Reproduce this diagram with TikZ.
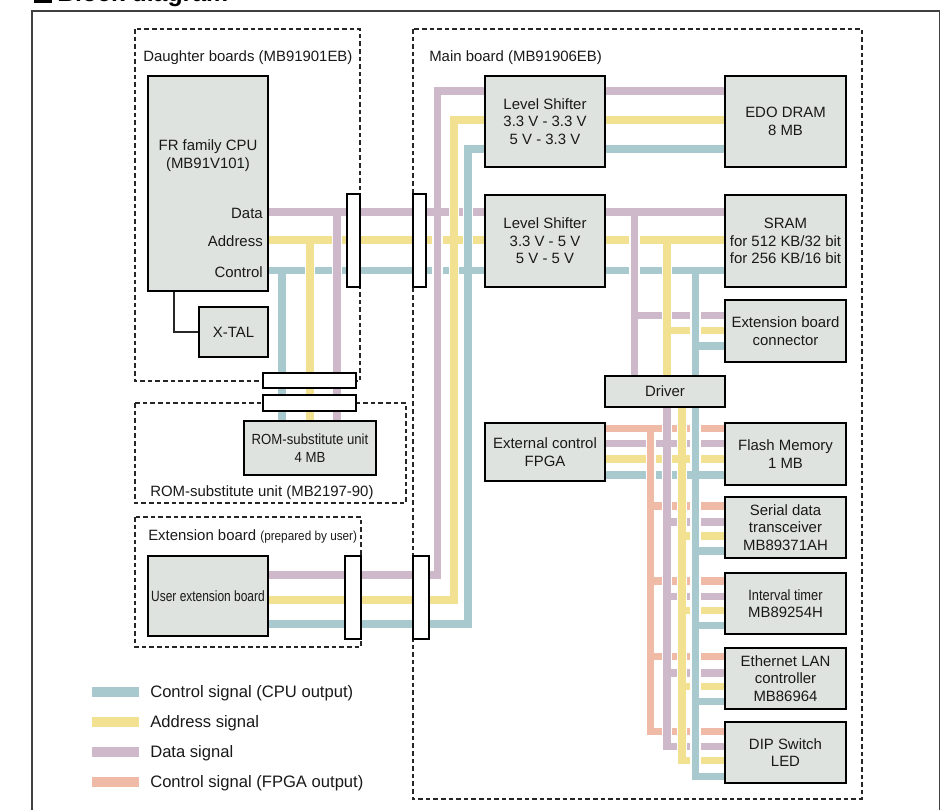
\documentclass[tikz,border=0pt]{standalone}
\usepackage{fontspec}
\setmainfont{Liberation Sans}
\newfontfamily\cA[FakeStretch=0.80]{Liberation Sans}
\newfontfamily\cB[FakeStretch=0.86]{Liberation Sans}
\newfontfamily\cC[FakeStretch=0.90]{Liberation Sans}
\newfontfamily\cD[FakeStretch=0.90]{Liberation Sans}
\definecolor{sigB}{HTML}{A8CACF}
\definecolor{sigY}{HTML}{F2E190}
\definecolor{sigP}{HTML}{CDB9C9}
\definecolor{sigO}{HTML}{EFBBA6}
\definecolor{boxfill}{HTML}{DFE3DF}
\pgfdeclarelayer{wires}
\pgfsetlayers{wires,main}
\tikzset{
  sigwire/.style={line width=5.4pt, draw=#1, preaction={draw=white, line width=7.65pt}},
  sigstub/.style={line width=5.4pt, draw=#1, preaction={draw=white, line width=7.65pt, shorten <=2.7pt}},
  sigpatch/.style={line width=5.4pt, draw=#1},
  blk/.style={draw=black, line width=2pt, fill=boxfill, inner sep=0pt, align=center, text=black!90,
              font=\fontsize{11.2}{13.2}\selectfont},
  connbox/.style={draw=black, line width=1.7pt, fill=white, inner sep=0pt},
  dbox/.style={draw=black!85, line width=0.8pt, dash pattern=on 3.5pt off 2.2pt},
  lbl/.style={inner sep=0pt, text=black!90, font=\fontsize{11.2}{13.2}\selectfont},
  lgtxt/.style={inner sep=0pt, text=black!90, font=\fontsize{12.45}{14}\selectfont, anchor=base west},
  swatch/.style={minimum width=35.25pt, minimum height=7.5pt, inner sep=0pt, draw=none},
}
\newcommand\bx[7]{\node[#1, minimum width={(#5-#3)*0.75pt}, minimum height={(#6-#4)*0.75pt}] (#2) at ({(#3+#5)/2},{(#4+#6)/2}) {#7};}
\newcommand\jpatch[3]{\draw[sigpatch=#1] (#2,#3) -- ({#2+6.5},#3);}
\newcommand\xpatch[3]{\draw[sigpatch=#1] ({#2-6.5},#3) -- ({#2+6.5},#3);}
\begin{document}
\begin{tikzpicture}[x=0.75pt, y=-0.75pt]
\useasboundingbox (0,0) rectangle (947,810);
% title and frame
\fill[black] (34,-16) rectangle (52,3);
\node[anchor=base west, inner sep=0pt, font=\bfseries\fontsize{18.6}{20}\selectfont] (title) at (57,1.5) {Block diagram};
\draw[line width=1.3pt, black!75] (32,11) rectangle (939.5,840);

% ---------- nodes ----------
\bx{blk}{cpu}{148}{76}{268}{291}{}
\node[lbl, align=center, font=\fontsize{11.2}{13.5}\selectfont] (cputxt) at (208,155.3) {FR family CPU\\(MB91V101)};
\node[lbl, anchor=base east] (ldata) at (263,218.6) {Data};
\node[lbl, anchor=base east] (laddr) at (263,246) {Address};
\node[lbl, anchor=base east] (lctrl) at (263,277) {Control};
\bx{blk}{xtal}{199}{307}{268}{357}{X-TAL}
\bx{blk, font=\cC\fontsize{11}{13.2}\selectfont}{rom}{244}{421}{376}{475}{ROM-substitute unit\\4 MB}
\bx{blk, font=\cA\fontsize{11.2}{13.2}\selectfont}{uext}{148}{556}{268}{636}{User extension board}

\bx{connbox}{c1}{347}{194}{360}{287}{}
\bx{connbox}{c2}{413}{194}{426}{287}{}
\bx{connbox}{c3}{263}{373}{356}{388}{}
\bx{connbox}{c4}{263}{395}{356}{411}{}
\bx{connbox}{c5}{345}{556}{361}{639}{}
\bx{connbox}{c6}{413}{556}{429}{639}{}

\bx{blk}{ls1}{485}{76}{605}{167}{Level Shifter\\3.3 V - 3.3 V\\5 V - 3.3 V}
\bx{blk}{dram}{725}{76}{846}{167}{EDO DRAM\\8 MB}
\bx{blk}{ls2}{485}{195}{605}{287}{Level Shifter\\3.3 V - 5 V\\5 V - 5 V}
\bx{blk}{sram}{725}{195}{846}{287}{SRAM\\for 512 KB/32 bit\\for 256 KB/16 bit}
\bx{blk}{extc}{725}{300}{846}{362}{Extension board\\connector}
\bx{blk}{drv}{605}{376}{725}{407}{Driver}
\bx{blk}{fpga}{485}{423}{605}{481}{External control\\FPGA}
\bx{blk}{flash}{725}{423}{846}{485}{Flash Memory\\1 MB}
\bx{blk}{serial}{725}{497}{846}{558}{Serial data\\transceiver\\MB89371AH}
\bx{blk}{timer}{725}{573}{846}{634}{{\cB Interval timer}\\MB89254H}
\bx{blk}{eth}{725}{648}{846}{709}{Ethernet LAN\\controller\\MB86964}
\bx{blk}{dip}{725}{722}{846}{783}{DIP Switch\\LED}

% labels of dashed areas
\node[lbl, anchor=base west] (dbl) at (143,61.3) {Daughter boards (MB91901EB)};
\node[lbl, anchor=base west] (mbl) at (429,61.3) {Main board (MB91906EB)};
\node[lbl, anchor=base west] (rbl) at (150,496.3) {ROM-substitute unit (MB2197-90)};
\node[lbl, anchor=base west] (ebl) at (148,540.3) {Extension board {\cD\fontsize{9.8}{12}\selectfont(prepared by user)}};

% legend
\node[swatch, fill=sigB] (lgB) at (115.5,692) {};
\node[swatch, fill=sigY] (lgY) at (115.5,722) {};
\node[swatch, fill=sigP] (lgP) at (115.5,752) {};
\node[swatch, fill=sigO] (lgO) at (115.5,782) {};
\node[lgtxt] (lgBt) at (150,697.9) {Control signal (CPU output)};
\node[lgtxt] (lgYt) at (150,727.9) {Address signal};
\node[lgtxt] (lgPt) at (150,757.9) {Data signal};
\node[lgtxt] (lgOt) at (150,787.9) {Control signal (FPGA output)};

% ---------- wires ----------
\begin{pgfonlayer}{wires}
\draw[dbox] (135,29) rectangle (360,381);
\draw[dbox] (413,29) rectangle (862,799);
\draw[dbox] (135,403) rectangle (406,503);
\draw[dbox] (135,517) rectangle (361,647);
\draw[line width=0.8pt, black!85] (cpu.south -| 174,0) |- (xtal.west);

% horizontal buses
\draw[sigwire=sigP] (cpu.east |- 0,212) -- (ls2.west |- 0,212);
\draw[sigwire=sigY] (cpu.east |- 0,240) -- (ls2.west |- 0,240);
\draw[sigwire=sigB] (cpu.east |- 0,270.5) -- (ls2.west |- 0,270.5);
\draw[sigwire=sigP] (ls2.east |- 0,212) -- (sram.west |- 0,212);
\draw[sigwire=sigY] (ls2.east |- 0,240) -- (sram.west |- 0,240);
\draw[sigwire=sigB] (ls2.east |- 0,270.5) -- (sram.west |- 0,270.5);
\draw[sigwire=sigP] (ls1.east |- 0,91) -- (dram.west |- 0,91);
\draw[sigwire=sigY] (ls1.east |- 0,120) -- (dram.west |- 0,120);
\draw[sigwire=sigB] (ls1.east |- 0,149) -- (dram.west |- 0,149);
\draw[sigwire=sigO] (fpga.east |- 0,428.5) -- (flash.west |- 0,428.5);
\draw[sigwire=sigP] (fpga.east |- 0,443.5) -- (flash.west |- 0,443.5);
\draw[sigwire=sigY] (fpga.east |- 0,459) -- (flash.west |- 0,459);
\draw[sigwire=sigB] (fpga.east |- 0,475) -- (flash.west |- 0,475);

% user extension board to level shifter 1
\draw[sigwire=sigP] (uext.east |- 0,575) -- (437.5,575) -- (437.5,91) -- (ls1.west |- 0,91);
\draw[sigwire=sigY] (uext.east |- 0,600) -- (454,600) -- (454,120) -- (ls1.west |- 0,120);
\draw[sigwire=sigB] (uext.east |- 0,624) -- (468,624) -- (468,149) -- (ls1.west |- 0,149);
\xpatch{sigP}{437.5}{212}
\xpatch{sigY}{454}{240}
\xpatch{sigB}{468}{270.5}

% drops to ROM-substitute unit
\draw[sigstub=sigB] (282,270.5) -- (rom.north -| 282,0);
\draw[sigstub=sigY] (310,240) -- (rom.north -| 310,0);
\draw[sigstub=sigP] (337,212) -- (rom.north -| 337,0);

% drops from SRAM bus
\draw[sigstub=sigP] (634.5,315.5) -- (extc.west |- 0,315.5);
\draw[sigstub=sigY] (667,330.3) -- (extc.west |- 0,330.3);
\draw[sigstub=sigB] (695.5,346) -- (extc.west |- 0,346);
\draw[sigstub=sigP] (634.5,212) -- (drv.north -| 634.5,0);
\draw[sigstub=sigY] (667,240) -- (drv.north -| 667,0);
\draw[sigstub=sigB] (695.5,270.5) -- (drv.north -| 695.5,0);
\jpatch{sigP}{634.5}{315.5}
\jpatch{sigY}{667}{330.3}
\jpatch{sigB}{695.5}{346}

% lower bus branches
\foreach \yy/\tgt in {506/serial, 581/timer, 656.3/eth}
  \draw[sigstub=sigO] (650.8,\yy) -- (\tgt.west |- 0,\yy);
\foreach \yy/\tgt in {522/serial, 596.7/timer, 673/eth}
  \draw[sigstub=sigP] (667,\yy) -- (\tgt.west |- 0,\yy);
\foreach \yy/\tgt in {536/serial, 610.7/timer, 686.7/eth}
  \draw[sigstub=sigY] (682,\yy) -- (\tgt.west |- 0,\yy);
\foreach \yy/\tgt in {551/serial, 625.8/timer, 701.7/eth}
  \draw[sigstub=sigB] (695.5,\yy) -- (\tgt.west |- 0,\yy);
% lower verticals
\draw[sigstub=sigO] (650.8,428.5) -- (650.8,731.3) -- (dip.west |- 0,731.3);
\draw[sigwire=sigP] (drv.south -| 667,0) -- (667,746.5) -- (dip.west |- 0,746.5);
\draw[sigwire=sigY] (drv.south -| 682,0) -- (682,760.5) -- (dip.west |- 0,760.5);
\draw[sigwire=sigB] (drv.south -| 695.5,0) -- (695.5,776.5) -- (dip.west |- 0,776.5);
\foreach \yy in {506,581,656.3} {\jpatch{sigO}{650.8}{\yy}}
\foreach \yy in {522,596.7,673} {\jpatch{sigP}{667}{\yy}}
\foreach \yy in {536,610.7,686.7} {\jpatch{sigY}{682}{\yy}}
\foreach \yy in {551,625.8,701.7} {\jpatch{sigB}{695.5}{\yy}}
\xpatch{sigP}{667}{443.5}
\xpatch{sigY}{682}{459}
\xpatch{sigB}{695.5}{475}
\end{pgfonlayer}
\end{tikzpicture}
\end{document}
